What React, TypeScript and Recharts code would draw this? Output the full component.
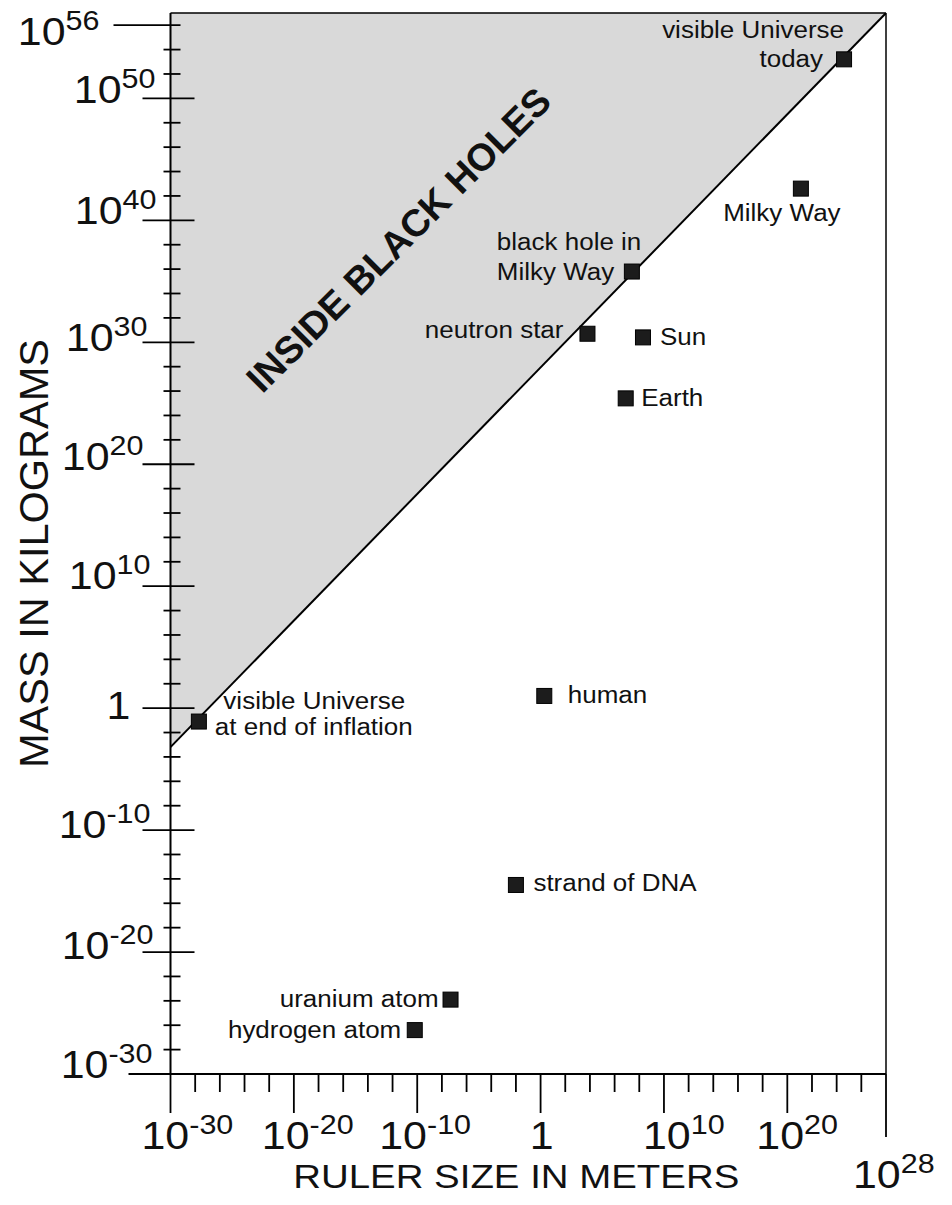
import React from 'react';
import {
  ComposedChart,
  Area,
  Line,
  Scatter,
  XAxis,
  YAxis,
  ReferenceLine,
  ReferenceDot,
} from 'recharts';

const FONT = '"Liberation Sans", Arial, Helvetica, sans-serif';
const INK = '#111';
const STRETCH = 1.13; // the source lettering is a bit wider than Arial

// log10 of ruler size (m) and of mass (kg)
const OBJECT_NAMES = [
  'visible Universe\ntoday',
  'Milky Way',
  'black hole in\nMilky Way',
  'neutron star',
  'Sun',
  'Earth',
  'human',
  'visible Universe\nat end of inflation',
  'strand of DNA',
  'uranium atom',
  'hydrogen atom',
];
const LOG_SIZE = [24.6, 21.1, 7.4, 3.8, 8.3, 6.9, 0.3, -27.7, -2.0, -7.3, -10.2];
const LOG_MASS = [53.2, 42.6, 35.8, 30.7, 30.4, 25.4, 1.0, -1.1, -14.5, -23.9, -26.4];

// black hole boundary (Schwarzschild line)
const HORIZON_SIZE = [-30, 28];
const HORIZON_MASS = [-3.2, 57];

const X_DOMAIN = [-30, 28];
const Y_DOMAIN = [-30, 57];
const X_TICKS = [-30, -28, -26, -24, -22, -20, -18, -16, -14, -12, -10, -8, -6, -4, -2, 0, 2, 4, 6, 8, 10, 12, 14, 16, 18, 20, 22, 24, 26, 28];
const Y_TICKS = [-30, -28, -26, -24, -22, -20, -18, -16, -14, -12, -10, -8, -6, -4, -2, 0, 2, 4, 6, 8, 10, 12, 14, 16, 18, 20, 22, 24, 26, 28, 30, 32, 34, 36, 38, 40, 42, 44, 46, 48, 50, 52, 54, 56];
const X_LABELLED = [-30, -20, -10, 0, 10, 20, 28];
const Y_LABELLED = [-30, -20, -10, 0, 10, 20, 30, 40, 50, 56];

const X_TITLE = 'RULER SIZE IN METERS';
const Y_TITLE = 'MASS IN KILOGRAMS';
const REGION_TITLE = 'INSIDE BLACK HOLES';
const REGION_AT = { x: -11.5, y: 38.4 };

// hand placement of the labels, as in the original drawing
const X_LABEL_DX: Record<number, number> = { [-30]: -29, [-20]: -32, [-10]: -38, 0: 1, 10: -21, 20: -31, 28: -33 };
const Y_LABEL_DX: Record<number, number> = { 56: -71, 50: -15, 40: -14, 30: -23, 20: -27, 10: -20, 0: -40, [-10]: -20, [-20]: -17, [-30]: -18 };
const Y_LABEL_DY: Record<number, number> = { 56: 20, 50: 5, 40: 4, 30: 9, 20: 6, 10: 3, 0: 11, [-10]: 8, [-20]: 7, [-30]: 4 };

type Anchor = 'start' | 'middle' | 'end';
const LABEL_LAYOUT: Record<string, { dx: number; dy: number; anchor: Anchor }[]> = {
  'visible Universe\ntoday': [
    { dx: 0, dy: -21, anchor: 'end' },
    { dx: -21, dy: 8, anchor: 'end' },
  ],
  'Milky Way': [{ dx: -19, dy: 32, anchor: 'middle' }],
  'black hole in\nMilky Way': [
    { dx: -135, dy: -22, anchor: 'start' },
    { dx: -135, dy: 8, anchor: 'start' },
  ],
  'neutron star': [{ dx: -24, dy: 4, anchor: 'end' }],
  Sun: [{ dx: 17, dy: 8, anchor: 'start' }],
  Earth: [{ dx: 15.5, dy: 8, anchor: 'start' }],
  human: [{ dx: 23.5, dy: 7, anchor: 'start' }],
  'visible Universe\nat end of inflation': [
    { dx: 24.5, dy: -13, anchor: 'start' },
    { dx: 16, dy: 13, anchor: 'start' },
  ],
  'strand of DNA': [{ dx: 17.5, dy: 6, anchor: 'start' }],
  'uranium atom': [{ dx: -12, dy: 7, anchor: 'end' }],
  'hydrogen atom': [{ dx: -13.5, dy: 8, anchor: 'end' }],
};

const objects = OBJECT_NAMES.map((name, i) => ({
  name,
  x: LOG_SIZE[i],
  y: LOG_MASS[i],
}));

const horizon = HORIZON_SIZE.map((x, i) => ({
  x,
  y: HORIZON_MASS[i],
  band: [HORIZON_MASS[i], Y_DOMAIN[1]],
}));

function StretchText({
  x,
  y,
  anchor = 'start',
  size,
  weight = 'normal',
  children,
}: {
  x: number;
  y: number;
  anchor?: Anchor;
  size: number;
  weight?: string;
  children: React.ReactNode;
}) {
  return (
    <text
      transform={`translate(${x} ${y}) scale(${STRETCH} 1)`}
      textAnchor={anchor}
      fontSize={size}
      fontFamily={FONT}
      fontWeight={weight}
      fill={INK}
    >
      {children}
    </text>
  );
}

function Power({ x, y, exp, anchor }: { x: number; y: number; exp: number; anchor: Anchor }) {
  if (exp === 0) {
    return (
      <StretchText x={x} y={y} anchor={anchor} size={38}>
        1
      </StretchText>
    );
  }
  return (
    <StretchText x={x} y={y} anchor={anchor} size={38}>
      <tspan>10</tspan>
      <tspan dy={-15} fontSize={27}>
        {String(exp)}
      </tspan>
    </StretchText>
  );
}

function XTick(props: any) {
  const { x, y, payload } = props;
  const v = payload.value as number;
  const major = X_LABELLED.includes(v);
  const len = v === 28 ? 63 : major ? 39 : 18;
  return (
    <g>
      <line x1={x} y1={y} x2={x} y2={y + len} stroke="#000" strokeWidth={1.8} />
      {major &&
        (v === 0 ? (
          <Power x={x + X_LABEL_DX[v]} y={y + 75} exp={v} anchor="middle" />
        ) : (
          <Power x={x + X_LABEL_DX[v]} y={y + (v === 28 ? 114 : 75)} exp={v} anchor="start" />
        ))}
    </g>
  );
}

function YTick(props: any) {
  const { x, y, payload } = props;
  const v = payload.value as number;
  const major = Y_LABELLED.includes(v);
  let x1 = x - 7;
  let x2 = x + 10;
  if (v === 56) {
    x1 = x - 57;
  } else if (v === -30) {
    x1 = x - 42;
    x2 = x;
  } else if (major) {
    x1 = x - 28;
    x2 = x + 24;
  }
  return (
    <g>
      <line x1={x1} y1={y} x2={x2} y2={y} stroke="#000" strokeWidth={1.8} />
      {major && <Power x={x + Y_LABEL_DX[v]} y={y + Y_LABEL_DY[v]} exp={v} anchor="end" />}
    </g>
  );
}

function ObjectMarker(props: any) {
  const { cx, cy, payload } = props;
  const lines: string[] = payload.name.split('\n');
  const layout = LABEL_LAYOUT[payload.name] ?? [];
  return (
    <g>
      {lines.map((t, i) => (
        <StretchText
          key={t}
          x={cx + (layout[i]?.dx ?? 12)}
          y={cy + (layout[i]?.dy ?? 8)}
          anchor={layout[i]?.anchor ?? 'start'}
          size={23}
        >
          {t}
        </StretchText>
      ))}
      <rect x={cx - 7.5} y={cy - 7.5} width={15} height={15} fill="#1c1c1c" stroke="#000" strokeWidth={1} />
    </g>
  );
}

export default function App() {
  // pull the chart up over the body's top margin so the 10^56 label fits
  return (
    <div style={{ width: 936, height: 1197, marginTop: -8 }}>
      <ComposedChart
        width={936}
        height={1197}
        margin={{ top: 13, right: 58, bottom: 63, left: 62.5 }}
      >
        <XAxis
          type="number"
          dataKey="x"
          domain={X_DOMAIN}
          ticks={X_TICKS}
          interval={0}
          allowDataOverflow
          height={60}
          tickSize={0}
          tickMargin={0}
          tickLine={false}
          tick={<XTick />}
          axisLine={{ stroke: '#000', strokeWidth: 2 }}
          label={(p: any) => {
            const vb = p.viewBox;
            return (
              <StretchText x={vb.x + vb.width / 2 - 12} y={vb.y + 114} anchor="middle" size={34}>
                {X_TITLE}
              </StretchText>
            );
          }}
        />
        <YAxis
          type="number"
          dataKey="y"
          domain={Y_DOMAIN}
          ticks={Y_TICKS}
          interval={0}
          allowDataOverflow
          width={100}
          tickSize={0}
          tickMargin={0}
          tickLine={false}
          tick={<YTick />}
          axisLine={{ stroke: '#000', strokeWidth: 2 }}
          label={(p: any) => {
            const vb = p.viewBox;
            const ax = vb.x + vb.width;
            const cy = vb.y + vb.height / 2 + 10;
            return (
              <text
                transform={`translate(${ax - 123} ${cy}) rotate(-90)`}
                textAnchor="middle"
                fontSize={41.5}
                fontFamily={FONT}
                fill={INK}
              >
                {Y_TITLE}
              </text>
            );
          }}
        />
        <Area
          data={horizon}
          dataKey="band"
          type="linear"
          stroke="none"
          fill="#d9d9d9"
          fillOpacity={1}
          isAnimationActive={false}
        />
        <Line
          data={horizon}
          dataKey="y"
          type="linear"
          stroke="#000"
          strokeWidth={2}
          dot={false}
          isAnimationActive={false}
        />
        <ReferenceLine y={Y_DOMAIN[1]} stroke="#000" strokeWidth={1.5} />
        <ReferenceLine x={X_DOMAIN[1]} stroke="#000" strokeWidth={1.5} />
        <ReferenceDot
          x={REGION_AT.x}
          y={REGION_AT.y}
          r={1}
          fill="none"
          stroke="none"
          label={(p: any) => {
            const vb = p.viewBox;
            return (
              <text
                transform={`translate(${vb.x + vb.width / 2} ${vb.y + vb.height / 2}) rotate(-45)`}
                y={13}
                textAnchor="middle"
                fontSize={38}
                fontWeight="bold"
                fontFamily={FONT}
                fill={INK}
              >
                {REGION_TITLE}
              </text>
            );
          }}
        />
        <Scatter data={objects} shape={<ObjectMarker />} isAnimationActive={false} />
      </ComposedChart>
    </div>
  );
}
